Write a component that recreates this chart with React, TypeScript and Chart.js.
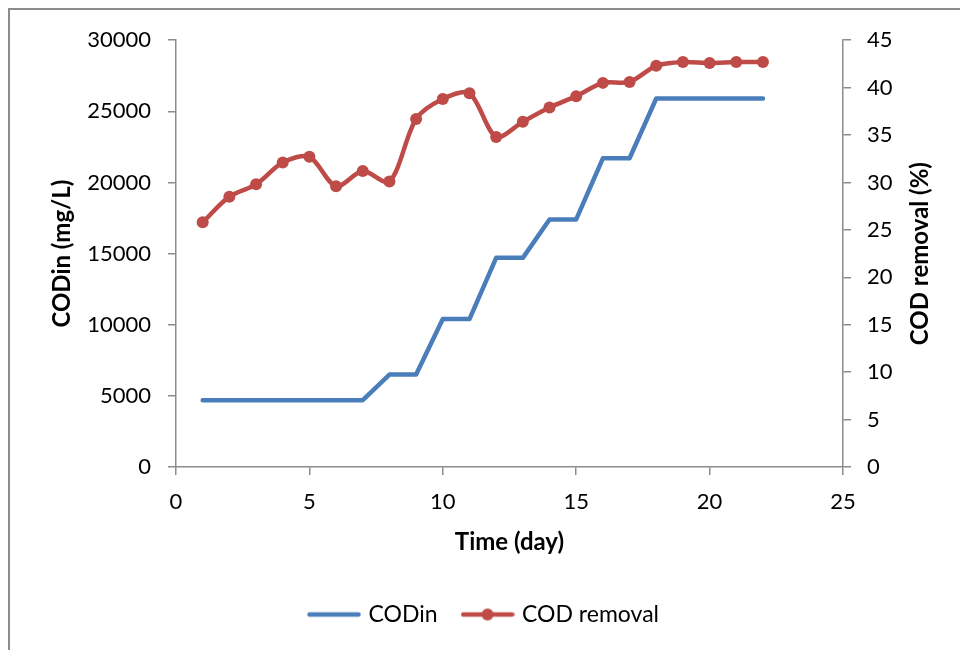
import React, { useEffect, useRef } from 'react';
import { Chart, registerables } from 'chart.js';

Chart.register(...registerables);

// Reactor operation: influent COD and COD removal per day
const days = [1, 2, 3, 4, 5, 6, 7, 8, 9, 10, 11, 12, 13, 14, 15, 16, 17, 18, 19, 20, 21, 22];
const codInValues = [
  4700, 4700, 4700, 4700, 4700, 4700, 4700, 6500, 6500, 10400, 10400,
  14700, 14700, 17400, 17400, 21700, 21700, 25900, 25900, 25900, 25900, 25900,
];
const removalValues = [
  25.8, 28.5, 29.8, 32.1, 32.7, 29.6, 31.2, 30.1, 36.7, 38.8, 39.4,
  34.8, 36.4, 37.9, 39.1, 40.5, 40.6, 42.3, 42.7, 42.6, 42.7, 42.7,
];

const dayTicks = [0, 5, 10, 15, 20, 25];
const codInTicks = [0, 5000, 10000, 15000, 20000, 25000, 30000];
const removalTicks = [0, 5, 10, 15, 20, 25, 30, 35, 40, 45];

const seriesNames = ['CODin', 'COD removal'];
const xTitle = 'Time (day)';
const leftTitle = 'CODin (mg/L)';
const rightTitle = 'COD removal (%)';

const BLUE = '#4A7EBB';
const RED = '#BE4B48';
const AXIS = '#8c8c8c';
const FONT = 'Lato';

function legendSwatch(color: string, withDot: boolean): HTMLCanvasElement {
  const c = document.createElement('canvas');
  c.width = 54;
  c.height = 14;
  const g = c.getContext('2d')!;
  g.strokeStyle = color;
  g.lineWidth = 4.5;
  g.lineCap = 'round';
  g.beginPath();
  g.moveTo(2.5, 7);
  g.lineTo(51.5, 7);
  g.stroke();
  if (withDot) {
    g.fillStyle = color;
    g.beginPath();
    g.arc(27, 7, 6, 0, Math.PI * 2);
    g.fill();
  }
  return c;
}

const rightTitlePlugin = {
  id: 'rightTitle',
  afterDraw(chart: any) {
    const { ctx, chartArea } = chart;
    ctx.save();
    ctx.translate(chart.width - 40, (chartArea.top + chartArea.bottom) / 2);
    ctx.rotate(-Math.PI / 2);
    ctx.font = `bold 24px ${FONT}`;
    ctx.fillStyle = '#000';
    ctx.textAlign = 'center';
    ctx.textBaseline = 'middle';
    ctx.fillText(rightTitle, 0, 0);
    ctx.restore();
  },
};

function fixedTicks(values: number[]) {
  return (scale: any) => {
    scale.ticks = values.map((v) => ({ value: v }));
  };
}

const plainNumber = (v: number | string) => String(v);

export default function App() {
  const canvasRef = useRef<HTMLCanvasElement | null>(null);

  useEffect(() => {
    if (!canvasRef.current) return;
    const tickFont = { family: FONT, size: 22 };
    const titleFont = { family: FONT, size: 24, weight: 'bold' as const };
    const grid = {
      drawOnChartArea: false,
      drawTicks: true,
      tickLength: 8,
      color: AXIS,
      lineWidth: 1.5,
    };
    const border = { display: true, color: AXIS, width: 1.5 };
    const swatches = [legendSwatch(BLUE, false), legendSwatch(RED, true)];

    const chart = new Chart(canvasRef.current, {
      type: 'line',
      data: {
        datasets: [
          {
            label: seriesNames[0],
            data: days.map((d, i) => ({ x: d, y: codInValues[i] })),
            yAxisID: 'y',
            borderColor: BLUE,
            backgroundColor: BLUE,
            borderWidth: 4.5,
            pointRadius: 0,
            tension: 0,
            borderCapStyle: 'round',
            borderJoinStyle: 'round',
          },
          {
            label: seriesNames[1],
            data: days.map((d, i) => ({ x: d, y: removalValues[i] })),
            yAxisID: 'y1',
            borderColor: RED,
            backgroundColor: RED,
            borderWidth: 4.5,
            pointRadius: 6,
            pointBorderWidth: 0,
            pointBackgroundColor: RED,
            tension: 0.3,
            borderCapStyle: 'round',
            borderJoinStyle: 'round',
          },
        ],
      },
      options: {
        responsive: false,
        animation: false,
        layout: { padding: { top: 30, left: 0, right: 0, bottom: 14 } },
        scales: {
          x: {
            type: 'linear',
            position: 'bottom',
            min: dayTicks[0],
            max: dayTicks[dayTicks.length - 1],
            afterBuildTicks: fixedTicks(dayTicks),
            afterFit: (s: any) => { s.height = 109; },
            ticks: { font: tickFont, color: '#000', padding: 14, maxRotation: 0, autoSkip: false, callback: plainNumber },
            grid,
            border,
            title: { display: true, text: xTitle, font: titleFont, color: '#000', padding: { top: 0, bottom: 19 } },
          },
          y: {
            type: 'linear',
            position: 'left',
            min: codInTicks[0],
            max: codInTicks[codInTicks.length - 1],
            afterBuildTicks: fixedTicks(codInTicks),
            afterFit: (s: any) => { s.width = 166; },
            ticks: { font: tickFont, color: '#000', padding: 17, callback: plainNumber },
            grid,
            border,
            title: { display: true, text: leftTitle, font: titleFont, color: '#000', padding: { top: 38, bottom: 0 } },
          },
          y1: {
            type: 'linear',
            position: 'right',
            min: removalTicks[0],
            max: removalTicks[removalTicks.length - 1],
            afterBuildTicks: fixedTicks(removalTicks),
            afterFit: (s: any) => { s.width = 117; },
            ticks: { font: tickFont, color: '#000', padding: 16, callback: plainNumber },
            grid,
            border,
          },
        },
        plugins: {
          tooltip: { enabled: false },
          legend: {
            position: 'bottom',
            labels: {
              font: { family: FONT, size: 23 },
              color: '#000',
              padding: 27,
              usePointStyle: true,
              pointStyleWidth: 46,
              generateLabels: () =>
                seriesNames.map((name, i) => ({
                  text: name,
                  pointStyle: swatches[i] as any,
                  fillStyle: i === 0 ? BLUE : RED,
                  strokeStyle: i === 0 ? BLUE : RED,
                  lineWidth: 0,
                  hidden: false,
                  datasetIndex: i,
                  fontColor: '#000',
                })),
            },
          },
        },
      },
      plugins: [rightTitlePlugin],
    } as any);

    return () => chart.destroy();
  }, []);

  return (
    <div
      style={{
        position: 'fixed',
        left: 8,
        top: 8,
        width: 952,
        height: 642,
        boxSizing: 'border-box',
        borderTop: `2px solid ${AXIS}`,
        borderLeft: `2px solid ${AXIS}`,
        background: '#fff',
      }}
    >
      <canvas ref={canvasRef} width={950} height={640} style={{ display: 'block' }} />
    </div>
  );
}
